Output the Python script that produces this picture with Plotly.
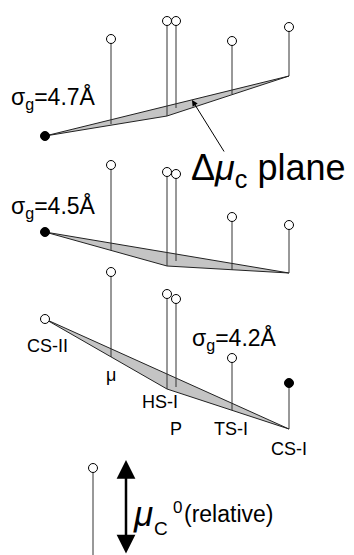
import plotly.graph_objects as go

# phases along the schematic composition axis
phases = ["CS-II", "μ", "HS-I", "P", "TS-I", "CS-I"]
phase_x = [45, 111, 167, 176, 232, 289]

# three panels, one per sigma_g (values in figure units, y grows downward)
sigma_g = ["4.7", "4.5", "4.2"]
plane_y = [
    [136, 124, 116, 108, 94, 76],
    [232, 250, 266, 261, 270, 273],
    [319, 357, 389, 387, 410, 429],
]
mu_y = [
    [136, 39, 21, 21, 41, 27],
    [232, 165, 172, 174, 217, 225],
    [319, 272, 294, 299, 358, 383],
]
stable = ["CS-II", "CS-II", "CS-I"]

FONT = "Liberation Sans, Arial, sans-serif"
fig = go.Figure()

for k in range(3):
    base = plane_y[k]
    top = mu_y[k]
    # plane triangle CS-II / HS-I / CS-I
    px = [phase_x[0], phase_x[2], phase_x[5], phase_x[0]]
    py = [base[0], base[2], base[5], base[0]]
    fig.add_trace(go.Scatter(x=px, y=py, mode="lines", fill="toself",
                             fillcolor="#c4c4c4", line=dict(color="#222", width=1),
                             hoverinfo="skip"))
    # stems
    sx, sy = [], []
    for i in range(len(phases)):
        if top[i] != base[i]:
            sx += [phase_x[i], phase_x[i], None]
            sy += [base[i], top[i], None]
    fig.add_trace(go.Scatter(x=sx, y=sy, mode="lines",
                             line=dict(color="#333", width=1), hoverinfo="skip"))
    # markers
    fills = ["black" if p == stable[k] else "white" for p in phases]
    fig.add_trace(go.Scatter(x=phase_x, y=top, mode="markers",
                             marker=dict(size=9, color=fills,
                                         line=dict(color="black", width=1)),
                             hoverinfo="skip"))

# legend stem at the bottom
fig.add_trace(go.Scatter(x=[93, 93], y=[555, 468], mode="lines",
                         line=dict(color="#333", width=1), hoverinfo="skip"))
fig.add_trace(go.Scatter(x=[93], y=[468], mode="markers",
                         marker=dict(size=9, color="white", line=dict(color="black", width=1)),
                         hoverinfo="skip"))

ann = []
sg_pos = [(9, 98), (9, 207), (190, 339)]
for (x, y), s in zip(sg_pos, sigma_g):
    ann.append(dict(x=x, y=y, xanchor="left", yanchor="middle", showarrow=False,
                    text=f"σ<sub>g</sub>={s}Å", font=dict(size=23, family=FONT, color="black")))

lab_pos = [(47, 346), (111, 375), (160, 402), (176, 429), (231, 429), (289, 449)]
for (x, y), p in zip(lab_pos, phases):
    ann.append(dict(x=x, y=y, showarrow=False, text=p,
                    font=dict(size=18, family=FONT, color="black")))

ann.append(dict(x=189, y=170, xanchor="left", yanchor="middle", showarrow=False,
                text="Δ<i>μ</i><sub>c</sub> plane", font=dict(size=36, family=FONT, color="black")))
ann.append(dict(x=192, y=100, ax=225, ay=153, axref="x", ayref="y", xref="x", yref="y",
                showarrow=True, arrowhead=2, arrowsize=1.2, arrowwidth=1, arrowcolor="black", text=""))

# mu_C^0 (relative) double arrow
ann.append(dict(x=126, y=460, ax=126, ay=555, axref="x", ayref="y",
                showarrow=True, arrowhead=2, arrowside="end+start", arrowsize=1.5,
                arrowwidth=2.5, arrowcolor="black", text=""))
ann.append(dict(x=131, y=513, xanchor="left", yanchor="middle", showarrow=False,
                text="<i>μ</i>", font=dict(size=35, family=FONT, color="black")))
ann.append(dict(x=161, y=528, xanchor="center", yanchor="middle", showarrow=False,
                text="C", font=dict(size=19, family=FONT, color="black")))
ann.append(dict(x=177, y=507, xanchor="center", yanchor="middle", showarrow=False,
                text="0", font=dict(size=17, family=FONT, color="black")))
ann.append(dict(x=182, y=514, xanchor="left", yanchor="middle", showarrow=False,
                text="(relative)", font=dict(size=23, family=FONT, color="black")))

fig.update_layout(
    width=354, height=555, margin=dict(l=0, r=0, t=0, b=0),
    paper_bgcolor="white", plot_bgcolor="white", showlegend=False,
    xaxis=dict(range=[0, 354], visible=False, fixedrange=True),
    yaxis=dict(range=[555, 0], visible=False, fixedrange=True),
    annotations=ann,
)

# page body has a default margin; drop it so the figure fills the window
fig.write_html("out.html", config={"displayModeBar": False},
               post_script="document.body.style.margin='0';")
